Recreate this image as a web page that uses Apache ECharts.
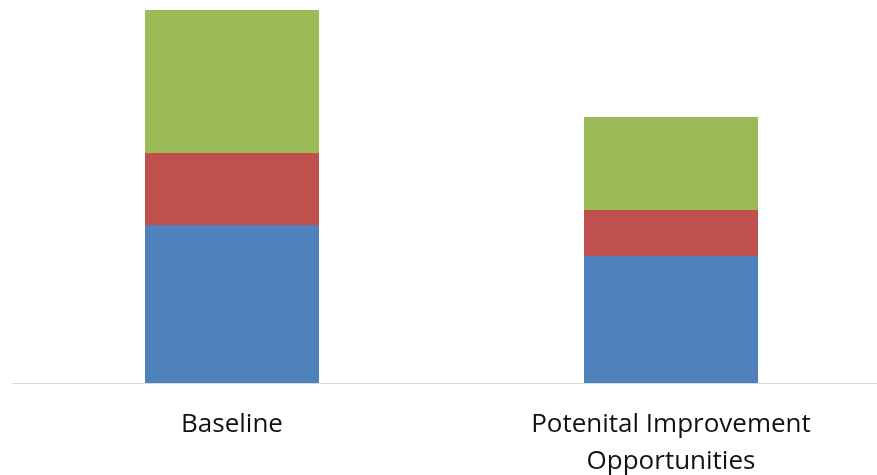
<!DOCTYPE html>
<html>
<head>
<meta charset="utf-8">
<script src="https://cdn.jsdelivr.net/npm/echarts@6/dist/echarts.min.js"></script>
<style>
  html, body { margin: 0; padding: 0; background: #fff; }
  #chart { width: 877px; height: 475px; }
</style>
</head>
<body>
<div id="chart"></div>
<script>
// Scenario categories on the x axis
const categories = ['Baseline', 'Potenital Improvement\nOpportunities'];

// Stacked components (bottom to top)
const seriesBlue = [158, 127];
const seriesRed = [72, 46];
const seriesGreen = [143, 93];

const axisMax = 373;

const chart = echarts.init(document.getElementById('chart'));

function stackSeries(name, data, color) {
  return {
    name: name,
    type: 'bar',
    stack: 'total',
    data: data,
    barWidth: 174,
    itemStyle: { color: color },
    emphasis: { disabled: true }
  };
}

chart.setOption({
  animation: false,
  grid: {
    left: 12.5, width: 878, top: 10, bottom: 92,
    containLabel: false,
    outerBoundsMode: 'none'
  },
  xAxis: {
    type: 'category',
    data: categories,
    axisLine: { lineStyle: { color: '#D9D9D9', width: 1 } },
    axisTick: { show: false },
    axisLabel: {
      interval: 0,
      margin: 23,
      fontFamily: 'Open Sans',
      fontSize: 26,
      lineHeight: 37,
      color: '#111'
    }
  },
  yAxis: {
    type: 'value',
    min: 0,
    max: axisMax,
    show: false,
    splitLine: { show: false }
  },
  series: [
    stackSeries('Blue', seriesBlue, '#4F81BD'),
    stackSeries('Red', seriesRed, '#C0504D'),
    stackSeries('Green', seriesGreen, '#9BBB59')
  ]
});
</script>
</body>
</html>
